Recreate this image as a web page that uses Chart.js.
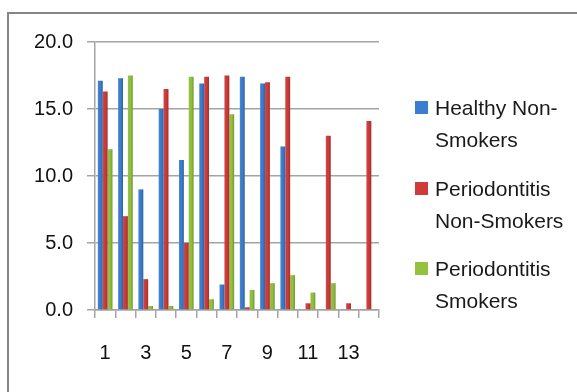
<!DOCTYPE html>
<html>
<head>
<meta charset="utf-8">
<script src="https://cdn.jsdelivr.net/npm/chart.js@4/dist/chart.umd.min.js"></script>
<style>
  html, body { margin: 0; padding: 0; background: #fff; }
  #wrap { position: relative; width: 577px; height: 392px; overflow: hidden; }
  #frame { position: absolute; left: 7px; top: 12px; width: 620px; height: 420px;
           border: 2px solid #858585; box-sizing: border-box; }
  #chart { position: absolute; left: 0; top: 0; }
  #legend { position: absolute; left: 415px; top: 0; font-family: "Liberation Sans", Arial, sans-serif;
            font-size: 21px; color: #1a1a1a; }
  .item { position: absolute; left: 0; width: 162px; }
  .sw { position: absolute; left: 0; width: 13px; height: 13px; }
  .txt { position: absolute; left: 20px; line-height: 32px; white-space: nowrap; }
</style>
</head>
<body>
<div id="wrap">
  <div id="frame"></div>
  <canvas id="chart" width="577" height="392"></canvas>
  <div id="legend"></div>
</div>
<script>
// Categories along the x axis
const categories = ['1','2','3','4','5','6','7','8','9','10','11','12','13','14'];

// Series values
const healthyNonSmokers      = [17.1, 17.3, 9.0, 15.0, 11.2, 16.9, 1.9, 17.4, 16.9, 12.2, 0, 0, 0, 0];
const periodontitisNonSmokers = [16.3, 7.0, 2.3, 16.5, 5.0, 17.4, 17.5, 0.2, 17.0, 17.4, 0.5, 13.0, 0.5, 14.1];
const periodontitisSmokers   = [12.0, 17.5, 0.3, 0.3, 17.4, 0.8, 14.6, 1.5, 2.0, 2.6, 1.3, 2.0, 0, 0];

// Legend / series names (wrapped as shown in the legend)
const seriesNames = [
  ['Healthy Non-', 'Smokers'],
  ['Periodontitis', 'Non-Smokers'],
  ['Periodontitis', 'Smokers']
];

// Y axis tick values
const yTicks = [0, 5, 10, 15, 20];

const colors = ['#3b7dd0', '#cf3b38', '#93c23f'];
const seriesData = [healthyNonSmokers, periodontitisNonSmokers, periodontitisSmokers];

// Shade each bar left-to-right for a slight cylindrical look
const barShade = {
  id: 'barShade',
  afterDatasetsDraw(chart) {
    const ctx = chart.ctx;
    chart.data.datasets.forEach((ds, i) => {
      const meta = chart.getDatasetMeta(i);
      meta.data.forEach(bar => {
        const w = bar.width, left = bar.x - w / 2;
        const top = Math.min(bar.y, bar.base), h = Math.abs(bar.base - bar.y);
        if (h <= 0) return;
        const g = ctx.createLinearGradient(left, 0, left + w, 0);
        g.addColorStop(0, 'rgba(255,255,255,0.12)');
        g.addColorStop(0.5, 'rgba(0,0,0,0.0)');
        g.addColorStop(1, 'rgba(0,0,0,0.22)');
        ctx.save();
        ctx.fillStyle = g;
        ctx.fillRect(left, top, w, h);
        ctx.restore();
      });
    });
  }
};

const gridColor = '#a4a4a4';
const tickFont = { family: 'Liberation Sans', size: 20 };

new Chart(document.getElementById('chart'), {
  type: 'bar',
  data: {
    labels: categories,
    datasets: seriesData.map((d, i) => ({
      label: seriesNames[i].join(' '),
      data: d,
      backgroundColor: colors[i],
      borderWidth: 0,
      categoryPercentage: 0.72,
      barPercentage: 1.0
    }))
  },
  options: {
    responsive: false,
    animation: false,
    devicePixelRatio: 1,
    layout: { padding: { left: 0, right: 198, top: 42, bottom: 0 } },
    plugins: { legend: { display: false }, tooltip: { enabled: false } },
    scales: {
      x: {
        grid: { offset: true, drawOnChartArea: false, color: gridColor, lineWidth: 1.5, tickLength: 8 },
        border: { color: gridColor, width: 1.5 },
        ticks: {
          autoSkip: false, maxRotation: 0, padding: 23, color: '#111', font: tickFont,
          callback: (v, i) => (i % 2 === 0 ? categories[i] : '')
        },
        afterFit: s => { s.height = 82; }
      },
      y: {
        min: 0, max: 20,
        afterBuildTicks: s => { s.ticks = yTicks.map(v => ({ value: v })); },
        grid: { color: gridColor, lineWidth: 1.5, tickLength: 8 },
        border: { color: gridColor, width: 1.5 },
        ticks: { padding: 14, color: '#111', font: tickFont, callback: v => Number(v).toFixed(1) },
        afterFit: s => { s.width = 95; }
      }
    }
  },
  plugins: [barShade]
});

// Legend on the right
const legend = document.getElementById('legend');
const centers = [108, 189, 269];
seriesNames.forEach((lines, i) => {
  const item = document.createElement('div');
  item.className = 'item';
  item.style.top = (centers[i] - 16) + 'px';
  const sw = document.createElement('div');
  sw.className = 'sw';
  sw.style.top = '9px';
  sw.style.background = colors[i];
  const txt = document.createElement('div');
  txt.className = 'txt';
  txt.style.top = '0px';
  txt.innerHTML = lines.join('<br>');
  item.appendChild(sw);
  item.appendChild(txt);
  legend.appendChild(item);
});
</script>
</body>
</html>
